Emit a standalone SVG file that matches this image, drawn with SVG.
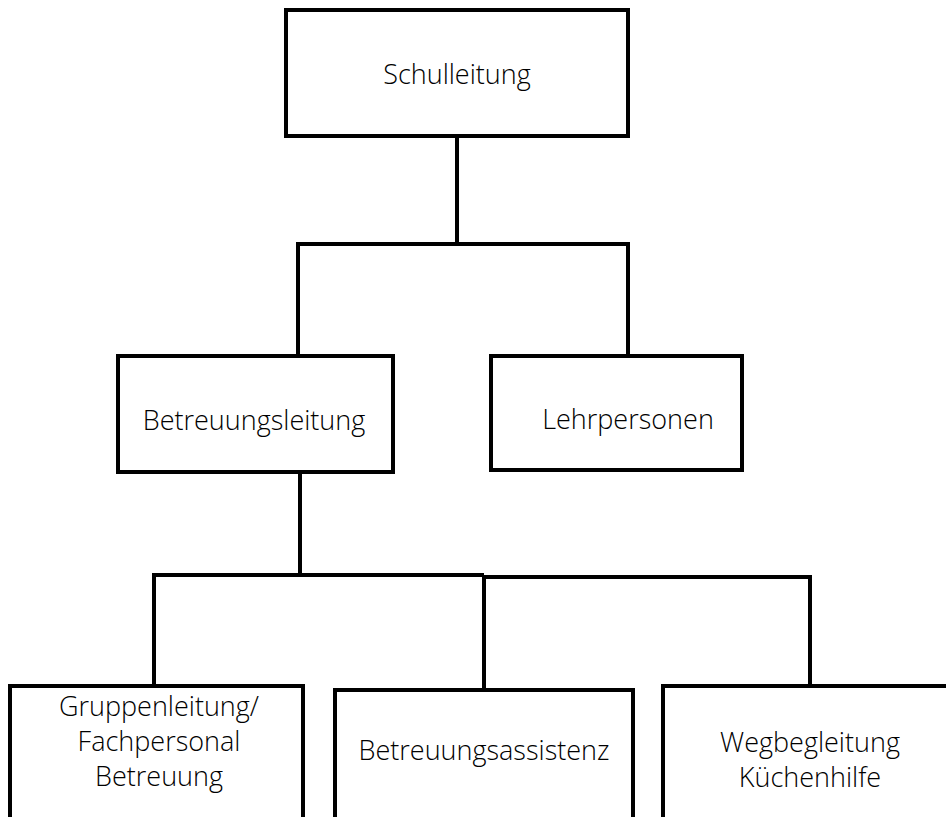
<svg xmlns="http://www.w3.org/2000/svg" width="948" height="817" viewBox="0 0 948 817">
<style>
.box{fill:#fff;stroke:#000;stroke-width:4}
.ln{fill:none;stroke:#000;stroke-width:4}
text{font-family:"Open Sans","Noto Sans","Liberation Sans",sans-serif;font-size:27px;font-weight:300;fill:#000;text-anchor:middle}
</style>
<g id="connectors">
<path class="ln" d="M457 136V244M298 356V244H628V356"/>
<path class="ln" d="M300 472V575M154 685V575H484M484 690V577H810V686"/>
</g>
<g id="schulleitung"><rect class="box" x="286" y="10" width="342" height="126"/><text x="457" y="84">Schulleitung</text></g>
<g id="betreuungsleitung"><rect class="box" x="118" y="356" width="275" height="116"/><text x="254" y="430">Betreuungsleitung</text></g>
<g id="lehrpersonen"><rect class="box" x="491" y="356" width="251" height="114"/><text x="628" y="429">Lehrpersonen</text></g>
<g id="gruppenleitung"><path class="ln" d="M10 830V686H303V830"/><text x="159" y="716">Gruppenleitung/</text><text x="159" y="751">Fachpersonal</text><text x="159" y="786">Betreuung</text></g>
<g id="betreuungsassistenz"><path class="ln" d="M335 830V690H633V830"/><text x="484" y="760">Betreuungsassistenz</text></g>
<g id="wegbegleitung"><path class="ln" d="M663 830V686H946"/><text x="810" y="752">Wegbegleitung</text><text x="810" y="787">Küchenhilfe</text></g>
</svg>
